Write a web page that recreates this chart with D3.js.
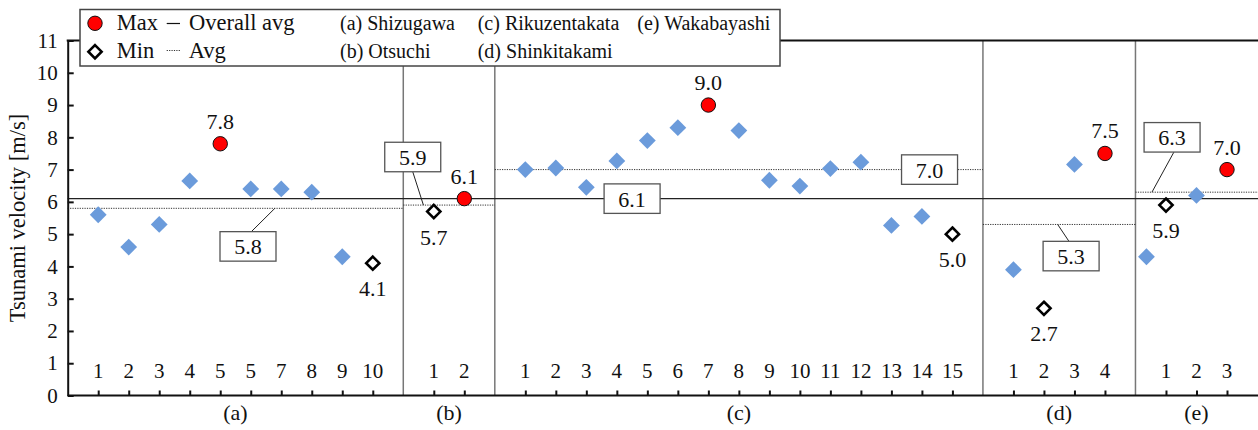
<!DOCTYPE html>
<html>
<head>
<meta charset="utf-8">
<script src="https://cdn.jsdelivr.net/npm/d3@7"></script>
<style>
  html, body { margin: 0; padding: 0; background: #fff; }
  svg text { font-family: "Liberation Serif", "Times New Roman", serif; fill: #111; }
</style>
</head>
<body>
<svg id="chart" width="1258" height="430"></svg>
<script>
// ---- data -------------------------------------------------------------
const groupKeys = ["(a)", "(b)", "(c)", "(d)", "(e)"];
const siteNames = ["Shizugawa", "Otsuchi", "Rikuzentakata", "Shinkitakami", "Wakabayashi"];

const pointLabelsA = ["1", "2", "3", "4", "5", "5", "7", "8", "9", "10"];
const pointLabelsB = ["1", "2"];
const pointLabelsC = ["1", "2", "3", "4", "5", "6", "7", "8", "9", "10", "11", "12", "13", "14", "15"];
const pointLabelsD = ["1", "2", "3", "4"];
const pointLabelsE = ["1", "2", "3"];

const velocityA = [5.6, 4.6, 5.3, 6.65, 7.8, 6.4, 6.4, 6.3, 4.3, 4.1];
const velocityB = [5.7, 6.1];
const velocityC = [7.0, 7.05, 6.45, 7.27, 7.9, 8.3, 9.0, 8.21, 6.67, 6.49, 7.03, 7.23, 5.27, 5.55, 5.0];
const velocityD = [3.9, 2.7, 7.16, 7.5];
const velocityE = [5.9, 6.2, 7.0];

// extra Wakabayashi reading plotted between the divider and point 1
const extraSlotE = [0.36];
const extraVelocityE = [4.3];

const siteAverages = [5.8, 5.9, 7.0, 5.3, 6.3];
const overallAverage = 6.1;

const yTickValues = d3.range(0, 12);

// ---- layout -----------------------------------------------------------
const pointLabels = [pointLabelsA, pointLabelsB, pointLabelsC, pointLabelsD, pointLabelsE];
const velocities = [velocityA, velocityB, velocityC, velocityD, velocityE];

// each site takes one slot per point plus one spacer slot
const groupStart = [];
let acc = 0;
velocities.forEach(v => { groupStart.push(acc); acc += v.length + 1; });
const totalSlots = acc;

const plot = { left: 67.7, right: 1258, top: 40.5, bottom: 395.5 };
const x = d3.scaleLinear().domain([0, totalSlots]).range([plot.left, 1257.5]);
const y = d3.scaleLinear().domain([0, 11]).range([plot.bottom, plot.top]);

const BLUE = "#6b9bdb";
const FS_TICK = 21;
const FS_VALUE = 22;

// callout placement for the average labels (slot offset inside the group, value)
const callouts = [
  { box: [5.91, 4.62], from: 6.02, to: 6.79, side: "top" },
  { box: [0.31, 7.39], from: 0.31, to: 0.66, side: "bottom" },
  { box: [14.25, null] },
  { box: [2.89, 4.32], from: 2.82, to: 2.45, side: "top" },
  { box: [1.2, 8.0], from: 1.26, to: 0.54, side: "bottom" }
];
const overallBoxSlot = groupStart[2] + 4.5;
const BOX_W = 56, BOX_H = 29.5;

const svg = d3.select("#chart");

// ---- dividers between sites -------------------------------------------
const dividers = groupStart.slice(1);
svg.append("g").selectAll("line").data(dividers).join("line")
  .attr("x1", d => x(d)).attr("x2", d => x(d))
  .attr("y1", y(11)).attr("y2", y(0))
  .attr("stroke", "#777").attr("stroke-width", 1.5);

// ---- overall average line ---------------------------------------------
svg.append("line")
  .attr("x1", plot.left).attr("x2", plot.right)
  .attr("y1", y(overallAverage)).attr("y2", y(overallAverage))
  .attr("stroke", "#222").attr("stroke-width", 1.2);

// ---- site average lines (dotted) --------------------------------------
svg.append("g").selectAll("line").data(siteAverages).join("line")
  .attr("x1", (d, i) => x(groupStart[i]))
  .attr("x2", (d, i) => i === siteAverages.length - 1 ? plot.right : x(groupStart[i + 1]))
  .attr("y1", d => y(d)).attr("y2", d => y(d))
  .attr("stroke", "#333").attr("stroke-width", 1).attr("stroke-dasharray", "1.2,1.2");

// ---- average callouts -------------------------------------------------
function drawBox(cx, cy, text) {
  svg.append("rect")
    .attr("x", cx - BOX_W / 2).attr("y", cy - BOX_H / 2)
    .attr("width", BOX_W).attr("height", BOX_H)
    .attr("fill", "#fff").attr("stroke", "#555").attr("stroke-width", 1.3);
  svg.append("text")
    .attr("x", cx).attr("y", cy + 8)
    .attr("text-anchor", "middle").attr("font-size", FS_VALUE)
    .text(text);
}

callouts.forEach((c, i) => {
  const avg = siteAverages[i];
  const cx = x(groupStart[i] + c.box[0]);
  const cy = c.box[1] === null ? y(avg) : y(c.box[1]);
  if (c.from !== undefined) {
    const y0 = c.side === "top" ? cy - BOX_H / 2 : cy + BOX_H / 2;
    svg.append("line")
      .attr("x1", x(groupStart[i] + c.from)).attr("y1", y0)
      .attr("x2", x(groupStart[i] + c.to)).attr("y2", y(avg))
      .attr("stroke", "#222").attr("stroke-width", 1);
  }
  drawBox(cx, cy, avg.toFixed(1));
});
drawBox(x(overallBoxSlot), y(overallAverage), overallAverage.toFixed(1));

// ---- points -----------------------------------------------------------
const diamondPath = (cx, cy, r) =>
  `M${cx},${cy - r}L${cx + r},${cy}L${cx},${cy + r}L${cx - r},${cy}Z`;

const pts = svg.append("g");
velocities.forEach((vals, gi) => {
  const iMax = d3.maxIndex(vals), iMin = d3.minIndex(vals);
  vals.forEach((v, k) => {
    const cx = x(groupStart[gi] + k + 1), cy = y(v);
    if (k === iMax) {
      pts.append("circle").attr("cx", cx).attr("cy", cy).attr("r", 7.2)
        .attr("fill", "#ff0000").attr("stroke", "#111").attr("stroke-width", 1);
      pts.append("text").attr("x", cx).attr("y", cy - 15)
        .attr("text-anchor", "middle").attr("font-size", FS_VALUE).text(v.toFixed(1));
    } else if (k === iMin) {
      pts.append("path").attr("d", diamondPath(cx, cy, 6.6))
        .attr("fill", "#fff").attr("stroke", "#000").attr("stroke-width", 2.6);
      pts.append("text").attr("x", cx).attr("y", cy + 33)
        .attr("text-anchor", "middle").attr("font-size", FS_VALUE).text(v.toFixed(1));
    } else {
      pts.append("path").attr("d", diamondPath(cx, cy, 8.4)).attr("fill", BLUE);
    }
  });
});
extraVelocityE.forEach((v, k) => {
  pts.append("path")
    .attr("d", diamondPath(x(groupStart[4] + extraSlotE[k]), y(v), 8.4))
    .attr("fill", BLUE);
});

// ---- point numbers inside the plot ------------------------------------
const slotTicks = [];
pointLabels.forEach((labs, gi) => labs.forEach((lab, k) => slotTicks.push({ s: groupStart[gi] + k + 1, lab })));
svg.append("g").selectAll("text").data(slotTicks).join("text")
  .attr("x", d => x(d.s)).attr("y", 378)
  .attr("text-anchor", "middle").attr("font-size", FS_TICK)
  .text(d => d.lab);

// ---- axes -------------------------------------------------------------
const yAxis = d3.axisLeft(y).tickValues(yTickValues).tickSizeInner(-6).tickSizeOuter(0).tickPadding(10);
const gy = svg.append("g").attr("transform", `translate(${plot.left},0)`).call(yAxis);
gy.select(".domain").attr("stroke", "#111").attr("stroke-width", 2);
gy.selectAll(".tick line").attr("stroke", "#111").attr("stroke-width", 2);
gy.selectAll(".tick text").attr("font-size", FS_TICK).attr("fill", "#111");

const xAxis = d3.axisBottom(x).tickValues(slotTicks.map(d => d.s)).tickSizeInner(-5).tickSizeOuter(0).tickFormat("");
const gx = svg.append("g").attr("transform", `translate(0,${plot.bottom})`).call(xAxis);
gx.select(".domain").attr("stroke", "#111").attr("stroke-width", 2).attr("d", `M${plot.left},0H${plot.right}`);
gx.selectAll(".tick line").attr("stroke", "#111").attr("stroke-width", 2);

// top frame line
svg.append("line")
  .attr("x1", plot.left - 1).attr("x2", plot.right)
  .attr("y1", y(11)).attr("y2", y(11))
  .attr("stroke", "#111").attr("stroke-width", 2);

// site letters under the axis
svg.append("g").selectAll("text").data(groupKeys).join("text")
  .attr("x", (d, i) => x(groupStart[i] + (velocities[i].length + 1) / 2))
  .attr("y", 420)
  .attr("text-anchor", "middle").attr("font-size", 22)
  .text(d => d);

// y axis title
svg.append("text")
  .attr("transform", `translate(25,${(y(0) + y(11)) / 2}) rotate(-90)`)
  .attr("text-anchor", "middle").attr("font-size", 22.5)
  .text("Tsunami velocity [m/s]");

// ---- legend -----------------------------------------------------------
const lg = svg.append("g");
lg.append("rect").attr("x", 80).attr("y", 9.5).attr("width", 700).attr("height", 56.5)
  .attr("fill", "#fff").attr("stroke", "#444").attr("stroke-width", 1.5);
lg.append("circle").attr("cx", 95).attr("cy", 23.3).attr("r", 7.2)
  .attr("fill", "#ff0000").attr("stroke", "#111").attr("stroke-width", 1);
lg.append("path").attr("d", diamondPath(95, 51.7, 6.6))
  .attr("fill", "#fff").attr("stroke", "#000").attr("stroke-width", 2.6);
lg.append("line").attr("x1", 166.7).attr("x2", 180).attr("y1", 23.5).attr("y2", 23.5)
  .attr("stroke", "#111").attr("stroke-width", 1.2);
lg.append("line").attr("x1", 166.7).attr("x2", 180).attr("y1", 50.5).attr("y2", 50.5)
  .attr("stroke", "#333").attr("stroke-width", 1).attr("stroke-dasharray", "1.2,1.2");
const legendText = [
  { t: "Max", x: 116.7, y: 30, fs: 22.5 },
  { t: "Overall avg", x: 189, y: 30, fs: 22.5 },
  { t: "Min", x: 116.7, y: 58, fs: 22.5 },
  { t: "Avg", x: 188.7, y: 58, fs: 22.5 }
];
const siteCols = [340, 477.7, 637.3];
groupKeys.forEach((k, i) => {
  legendText.push({ t: `${k} ${siteNames[i]}`, x: siteCols[Math.floor(i / 2)], y: i % 2 === 0 ? 29.5 : 57.5, fs: 20 });
});
lg.selectAll("text").data(legendText).join("text")
  .attr("x", d => d.x).attr("y", d => d.y).attr("font-size", d => d.fs)
  .text(d => d.t);
</script>
</body>
</html>
